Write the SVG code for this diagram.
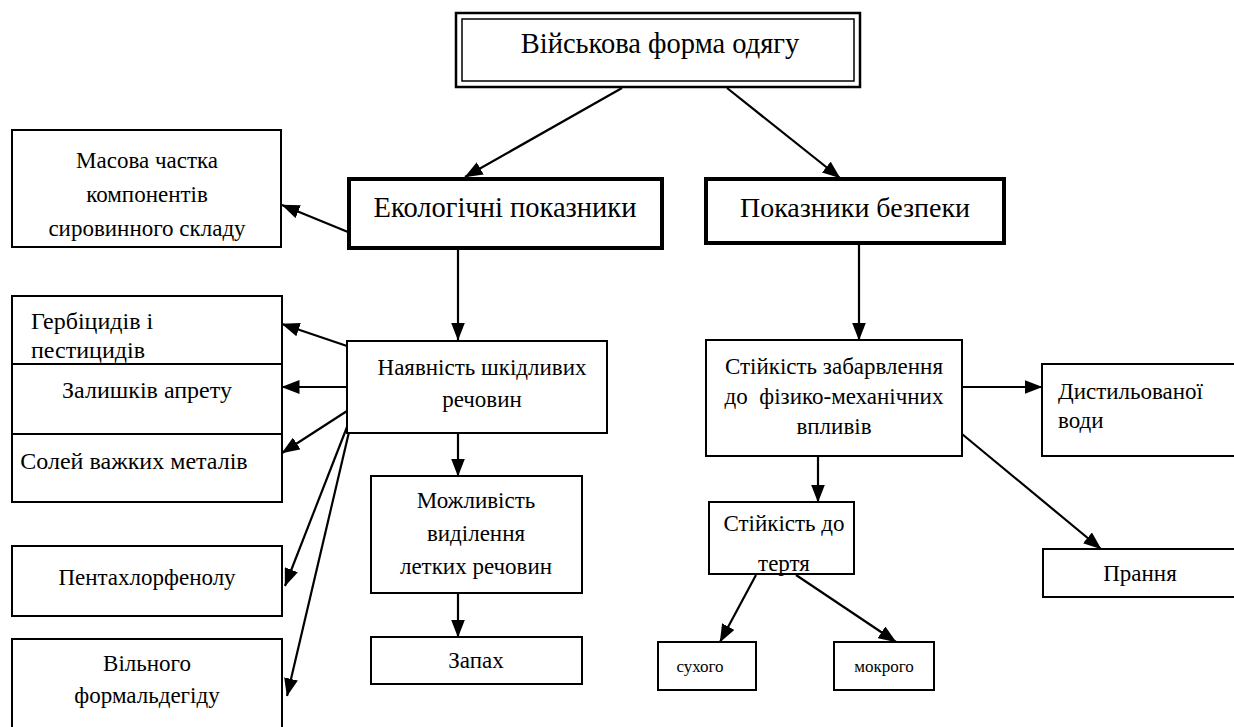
<svg xmlns="http://www.w3.org/2000/svg" width="1234" height="727" viewBox="0 0 1234 727">
<defs>
<marker id="ah" markerUnits="userSpaceOnUse" markerWidth="18" markerHeight="14" refX="17.5" refY="7" orient="auto">
<path d="M0,0 L18,7 L0,14 z" fill="#000"/>
</marker>
<style>
.b{fill:#fff;stroke:#000;stroke-width:2}
.bt{fill:#fff;stroke:#000;stroke-width:4}
text{font-family:'Liberation Serif',serif;fill:#000}
.c{stroke:#000;stroke-width:2.2;fill:none;marker-end:url(#ah)}
</style>
</defs>
<rect width="1234" height="727" fill="#fff"/>

<g id="connectors">
<line class="c" x1="622" y1="88" x2="465" y2="177"/>
<line class="c" x1="727" y1="88" x2="840" y2="178"/>
<line class="c" x1="348" y1="232" x2="282" y2="205"/>
<line class="c" x1="458" y1="249" x2="458" y2="340"/>
<line class="c" x1="347" y1="346" x2="282" y2="324"/>
<line class="c" x1="347" y1="387" x2="282" y2="387"/>
<line class="c" x1="347" y1="411" x2="282" y2="453"/>
<line class="c" x1="347" y1="427" x2="285" y2="586"/>
<line class="c" x1="349" y1="432" x2="287" y2="696"/>
<line class="c" x1="458" y1="433" x2="458" y2="476"/>
<line class="c" x1="458" y1="593" x2="458" y2="637"/>
<line class="c" x1="859" y1="244" x2="859" y2="340"/>
<line class="c" x1="962" y1="387" x2="1042" y2="387"/>
<line class="c" x1="962" y1="434" x2="1101" y2="549"/>
<line class="c" x1="818" y1="456" x2="818" y2="502"/>
<line class="c" x1="756" y1="575" x2="720" y2="642"/>
<line class="c" x1="796" y1="575" x2="896" y2="642"/>
</g>

<g font-family="Liberation Serif, serif">
<g id="n-top">
<rect x="456" y="13" width="404" height="74" fill="#fff" stroke="#000" stroke-width="2.5"/>
<rect x="462" y="19" width="392" height="62" fill="none" stroke="#000" stroke-width="1.5"/>
<text x="660" y="53" font-size="28.5" text-anchor="middle">Військова форма одягу</text>
</g>

<g id="n-masova">
<rect class="b" x="12" y="130" width="269" height="117"/>
<text x="147" y="168" font-size="23" text-anchor="middle">Масова частка</text>
<text x="147" y="202" font-size="23" text-anchor="middle">компонентів</text>
<text x="147" y="236" font-size="23" text-anchor="middle">сировинного складу</text>
</g>

<g id="n-eco">
<rect class="bt" x="349" y="179" width="313" height="69"/>
<text x="505" y="217" font-size="28.5" text-anchor="middle">Екологічні показники</text>
</g>

<g id="n-bezp">
<rect class="bt" x="706" y="179" width="298" height="64"/>
<text x="855" y="217" font-size="28" text-anchor="middle">Показники безпеки</text>
</g>

<g id="n-stack">
<rect class="b" x="12" y="296" width="270" height="206"/>
<line x1="12" y1="364" x2="282" y2="364" stroke="#000" stroke-width="2"/>
<line x1="12" y1="434" x2="282" y2="434" stroke="#000" stroke-width="2"/>
<text x="31" y="329" font-size="24">Гербіцидів і</text>
<text x="31" y="358" font-size="24">пестицидів</text>
<text x="147" y="398" font-size="24" text-anchor="middle">Залишків апрету</text>
<text x="134" y="469" font-size="24" text-anchor="middle">Солей важких металів</text>
</g>

<g id="n-nayavn">
<rect class="b" x="347" y="341" width="260" height="92"/>
<text x="482" y="375" font-size="23" text-anchor="middle">Наявність шкідливих</text>
<text x="482" y="407" font-size="23" text-anchor="middle">речовин</text>
</g>

<g id="n-mozhl">
<rect class="b" x="371" y="476" width="211" height="117"/>
<text x="476" y="508" font-size="23" text-anchor="middle">Можливість</text>
<text x="476" y="541" font-size="23" text-anchor="middle">виділення</text>
<text x="476" y="574" font-size="23" text-anchor="middle">летких речовин</text>
</g>

<g id="n-zapah">
<rect class="b" x="371" y="637" width="211" height="47"/>
<text x="476" y="668" font-size="23" text-anchor="middle">Запах</text>
</g>

<g id="n-penta">
<rect class="b" x="12" y="546" width="270" height="70"/>
<text x="147" y="585" font-size="23" text-anchor="middle">Пентахлорфенолу</text>
</g>

<g id="n-vilnogo">
<rect class="b" x="12" y="639" width="270" height="100"/>
<text x="147" y="671" font-size="23" text-anchor="middle">Вільного</text>
<text x="147" y="703" font-size="23" text-anchor="middle">формальдегіду</text>
</g>

<g id="n-stiyk">
<rect class="b" x="706" y="340" width="256" height="116"/>
<text x="834" y="374" font-size="23" text-anchor="middle">Стійкість забарвлення</text>
<text x="834" y="404" font-size="23" text-anchor="middle" xml:space="preserve">до  фізико-механічних</text>
<text x="834" y="434" font-size="23" text-anchor="middle">впливів</text>
</g>

<g id="n-dist">
<rect class="b" x="1042" y="364" width="200" height="92"/>
<text x="1058" y="399" font-size="23">Дистильованої</text>
<text x="1058" y="428" font-size="23">води</text>
</g>

<g id="n-tertya">
<rect class="b" x="709" y="502" width="145" height="72"/>
<text x="784" y="531" font-size="23" text-anchor="middle">Стійкість до</text>
<text x="784" y="571" font-size="23" text-anchor="middle">тертя</text>
</g>

<g id="n-prannya">
<rect class="b" x="1043" y="549" width="200" height="48"/>
<text x="1140" y="581" font-size="23" text-anchor="middle">Прання</text>
</g>

<g id="n-suhogo">
<rect class="b" x="658" y="642" width="98" height="48"/>
<text x="700" y="672" font-size="17" text-anchor="middle">сухого</text>
</g>

<g id="n-mokrogo">
<rect class="b" x="834" y="642" width="100" height="48"/>
<text x="884" y="672" font-size="17" text-anchor="middle">мокрого</text>
</g>
</g>
</svg>
